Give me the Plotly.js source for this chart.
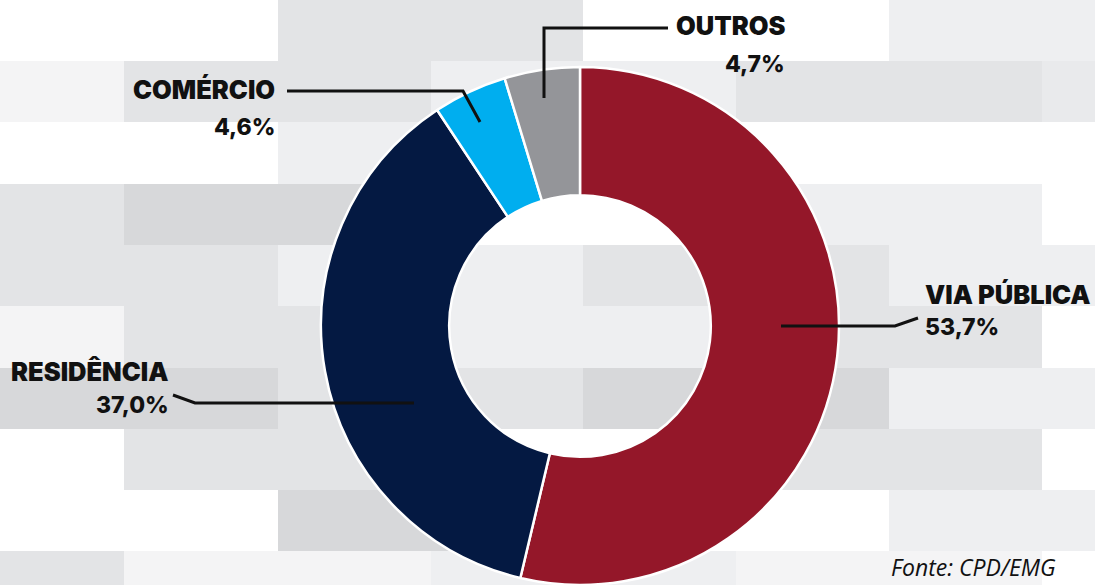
<!DOCTYPE html>
<html>
<head>
<meta charset="utf-8">
<script src="https://cdn.plot.ly/plotly-3.0.1.min.js"></script>
<style>
html,body{margin:0;padding:0;overflow:hidden;background:#fff;}
#chart{width:1095px;height:585px;}
</style>
</head>
<body>
<div id="chart"></div>
<script>
// ---- data ----
const categories = ['VIA PÚBLICA', 'RESIDÊNCIA', 'COMÉRCIO', 'OUTROS'];
const values = [53.7, 37.0, 4.6, 4.7];
const sliceColors = ['#941729', '#041942', '#00aeef', '#949599'];
const sourceText = 'Fonte: CPD/EMG';

// ---- decorative background mosaic (style) ----
const colEdges = [0, 124, 278, 431, 583, 736, 889, 1042, 1095];
const rowEdges = [0, 61, 122, 184, 245, 306, 368, 429, 490, 551, 585];
const W = '#ffffff', L1 = '#f4f4f5', L2 = '#eeeff1', G1 = '#e3e4e6', G2 = '#d7d8da', G3 = '#e9eaec';
const bgGrid = [
  [W,  W,  G1, G1, W,  W,  L2, L2],
  [L1, G1, G1, L2, L2, G1, G1, G3],
  [W,  W,  L2, L2, W,  W,  W,  W ],
  [G1, G2, G2, W,  W,  L2, L2, W ],
  [G1, G1, L2, L2, G1, G1, L2, L2],
  [L1, G1, G1, L2, L2, G1, G1, W ],
  [G2, G2, G1, G1, G2, G2, L2, L2],
  [W,  G1, G1, W,  W,  G1, G1, W ],
  [W,  W,  G2, G2, W,  W,  L2, L2],
  [G1, L1, L1, L2, L2, L1, L1, W ]
];

const PW = 1095, PH = 585;
const px = x => x / PW;
const py = y => 1 - y / PH;

const shapes = [];
for (let r = 0; r < bgGrid.length; r++) {
  for (let c = 0; c < bgGrid[r].length; c++) {
    shapes.push({
      type: 'rect', xref: 'paper', yref: 'paper', layer: 'below',
      x0: px(colEdges[c]), x1: px(colEdges[c + 1]),
      y0: py(rowEdges[r + 1]), y1: py(rowEdges[r]),
      fillcolor: bgGrid[r][c], line: {width: 0}
    });
  }
}

// ---- label placement (style) ----
const labelLayout = [
  {anchor: 'left',  x: 923, nameY: 294, valueY: 327, path: [[781, 326], [895, 326], [918, 318]]},
  {anchor: 'right', x: 171, nameY: 371, valueY: 405, path: [[173, 395], [195, 403], [414, 403]]},
  {anchor: 'right', x: 277, nameY: 89,  valueY: 127, path: [[287, 91], [463, 91], [480, 122]]},
  {anchor: 'right', x: 787, nameY: 26,  valueY: 64,  path: [[544, 98], [544, 28], [668, 28]]}
];

const nameFont = {family: 'Inter, "Open Sans", sans-serif', size: 25.5, color: '#111111', weight: 900};
const valueFont = {family: 'Inter, "Open Sans", sans-serif', size: 23, color: '#111111', weight: 800};
const annotations = [];
categories.forEach((cat, i) => {
  const L = labelLayout[i];
  annotations.push({
    xref: 'paper', yref: 'paper', x: px(L.x), y: py(L.nameY),
    xanchor: L.anchor, yanchor: 'middle', showarrow: false,
    text: cat, font: nameFont
  });
  annotations.push({
    xref: 'paper', yref: 'paper', x: px(L.x), y: py(L.valueY),
    xanchor: L.anchor, yanchor: 'middle', showarrow: false,
    text: values[i].toFixed(1).replace('.', ',') + '%', font: valueFont
  });
  const p = L.path.map((pt, k) => (k === 0 ? 'M ' : 'L ') + px(pt[0]) + ' ' + py(pt[1])).join(' ');
  shapes.push({
    type: 'path', xref: 'paper', yref: 'paper', layer: 'above',
    path: p, line: {color: '#111111', width: 3}
  });
});

annotations.push({
  xref: 'paper', yref: 'paper', x: px(1058), y: py(567),
  xanchor: 'right', yanchor: 'middle', showarrow: false,
  text: '<i>' + sourceText + '</i>',
  font: {family: '"Open Sans", sans-serif', size: 23, color: '#111111', weight: 400}
});

// ---- chart ----
const cx = 580, cy = 326, R = 259;
const trace = {
  type: 'pie',
  labels: categories,
  values: values,
  sort: false,
  direction: 'clockwise',
  rotation: 0,
  hole: 0.505,
  textinfo: 'none',
  hoverinfo: 'label+percent',
  marker: {colors: sliceColors, line: {color: '#ffffff', width: 2.5}},
  domain: {x: [px(cx - R), px(cx + R)], y: [py(cy + R), py(cy - R)]},
  showlegend: false
};

const layout = {
  width: PW, height: PH,
  margin: {l: 0, r: 0, t: 0, b: 0},
  paper_bgcolor: '#ffffff',
  showlegend: false,
  shapes: shapes,
  annotations: annotations
};

Plotly.newPlot('chart', [trace], layout, {displayModeBar: false, staticPlot: true});
</script>
</body>
</html>
